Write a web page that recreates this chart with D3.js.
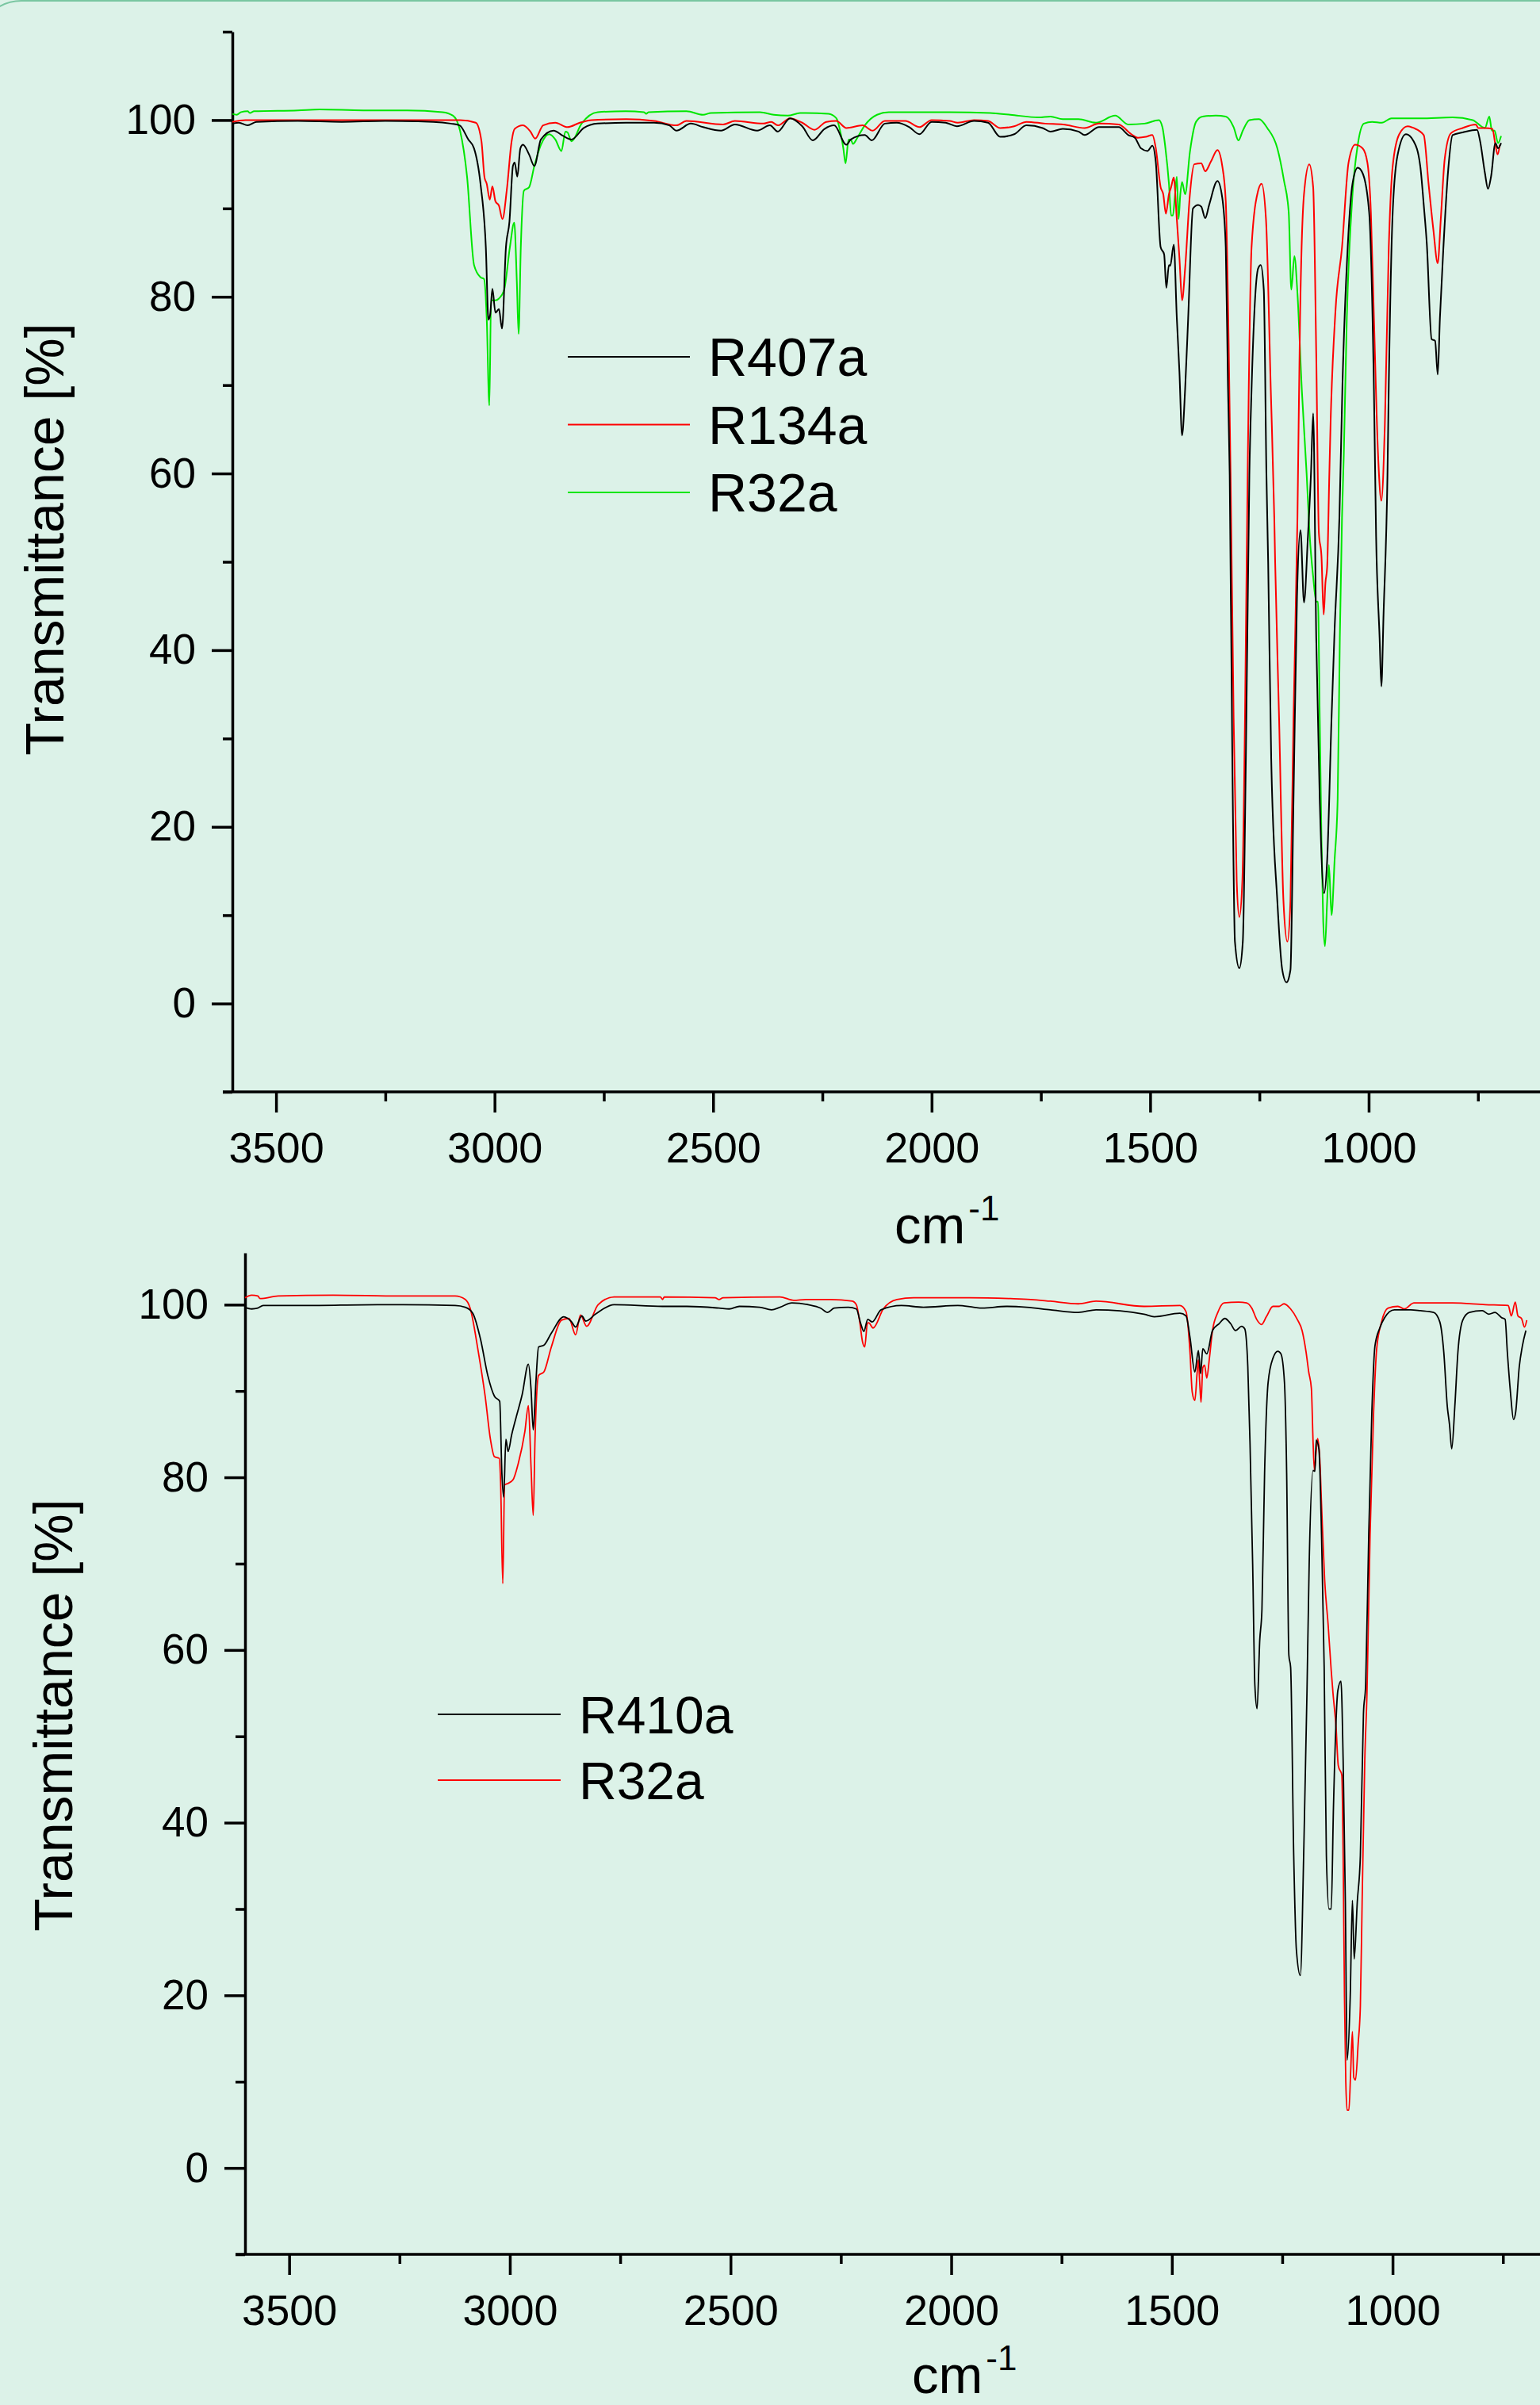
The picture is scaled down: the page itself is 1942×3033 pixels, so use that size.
<!DOCTYPE html>
<html>
<head>
<meta charset="utf-8">
<script src="https://cdn.jsdelivr.net/npm/d3@7"></script>
<style>
  body { margin: 0; background: #dcf2e8; }
  svg { display: block; }
  text { font-family: "Liberation Sans", Arial, sans-serif; fill: #000; }
</style>
</head>
<body>
<svg id="chart" width="1942" height="3033"></svg>
<script>
// ---- data (wavenumber cm-1, transmittance %) ----
const r407a = [[3600,99.6],[3585,99.7],[3565,99.4],[3545,99.8],[3450,99.9],[3350,99.8],[3250,99.9],[3140,99.8],[3100,99.6],[3080,99.4],[3060,97.8],[3047,96.8],[3032,92.7],[3020,85.6],[3014,77.4],[3010,78.0],[3005,80.9],[2998,78.2],[2990,78.6],[2983,76.4],[2974,85.6],[2966,88.5],[2958,94.8],[2954,95.2],[2948,93.6],[2941,96.8],[2935,97.2],[2921,96.1],[2909,94.8],[2894,97.8],[2865,98.8],[2843,98.2],[2824,97.8],[2796,99.1],[2764,99.6],[2699,99.7],[2635,99.7],[2600,99.4],[2584,98.8],[2551,99.6],[2523,99.2],[2482,98.8],[2450,99.5],[2399,98.8],[2370,99.4],[2352,98.7],[2324,100.2],[2296,99.3],[2272,97.7],[2245,99.0],[2223,99.4],[2195,97.2],[2185,97.8],[2153,98.3],[2137,97.7],[2107,99.6],[2080,99.7],[2051,99.2],[2028,98.4],[2000,99.8],[1968,99.7],[1942,99.3],[1903,99.9],[1871,99.7],[1843,98.1],[1811,98.4],[1783,99.4],[1746,99.1],[1728,98.7],[1700,99.0],[1664,98.7],[1650,98.3],[1617,99.2],[1572,99.2],[1550,98.3],[1535,98.0],[1521,96.8],[1506,96.5],[1495,97.1],[1487,95.2],[1476,85.6],[1468,84.8],[1463,81.0],[1457,83.6],[1454,83.5],[1446,85.9],[1439,77.6],[1433,71.5],[1427,64.3],[1420,69.5],[1413,77.6],[1402,90.0],[1390,90.4],[1383,90.2],[1374,88.9],[1365,90.4],[1346,93.1],[1335,91.2],[1327,85.6],[1322,70],[1318,59.8],[1312,27.8],[1306,7.0],[1296,4.0],[1288,7.0],[1281,27.7],[1273,59.8],[1268,69.5],[1253,83.2],[1247,83.6],[1240,80.8],[1234,60],[1230,50],[1223,27.7],[1209,11.6],[1198,3.9],[1188,2.4],[1179,3.8],[1172,23.1],[1164,46],[1156,53.6],[1148,45.4],[1139,52.9],[1132,60],[1127,66.8],[1120,41.4],[1112,23.1],[1102,12.5],[1095,16.2],[1085,32.3],[1078,42.3],[1067,55],[1060,70],[1048,85.6],[1037,92.8],[1025,94.6],[1014,94.0],[999,89.6],[988,69.5],[983,52.9],[975,41.4],[971,35.9],[966,44],[957,59.8],[954,70],[945,89.6],[934,96.0],[915,98.4],[897,97.6],[882,94.8],[874,90.4],[867,86.0],[856,75.2],[848,75],[842,71.2],[837,77.6],[829,85.6],[818,94.4],[808,98.3],[785,98.6],[752,98.9],[745,97.6],[734,94.0],[727,92.2],[720,93.6],[710,97.4],[704,96.8],[697,97.4]];

const r134a = [[3600,99.8],[3570,100],[3450,100],[3300,100],[3150,100],[3079,100],[3043,99.7],[3030,97.6],[3023,93.5],[3018,92.8],[3011,91.0],[3005,92.5],[2998,90.8],[2990,90.3],[2982,88.8],[2972,92.1],[2961,97.6],[2954,99.0],[2935,99.4],[2918,98.7],[2907,97.9],[2889,99.4],[2861,99.7],[2833,99.2],[2805,99.7],[2778,100],[2699,100.1],[2635,99.9],[2584,99.4],[2561,99.9],[2477,99.5],[2450,99.9],[2385,99.6],[2367,99.8],[2352,99.4],[2324,100.2],[2296,99.7],[2268,98.9],[2241,99.8],[2218,99.9],[2195,99.1],[2158,99.4],[2135,98.8],[2107,99.9],[2060,99.9],[2028,99.2],[2000,100],[1959,99.9],[1940,99.7],[1903,100],[1871,99.9],[1843,99.1],[1811,99.3],[1783,99.8],[1740,99.6],[1699,99.5],[1650,99.1],[1617,99.6],[1572,99.5],[1543,98.4],[1528,98.0],[1510,98.1],[1495,98.3],[1487,96.8],[1476,92.4],[1470,91.6],[1464,89.4],[1457,91.6],[1452,92.4],[1446,93.5],[1439,88.8],[1433,84.4],[1427,79.6],[1420,83.2],[1409,91.6],[1399,95.0],[1383,95.1],[1374,94.2],[1361,95.3],[1346,96.6],[1335,94.8],[1327,90.8],[1320,73.6],[1316,59.8],[1309,32.3],[1302,13.9],[1296,9.8],[1289,13.9],[1283,32.3],[1277,59.8],[1268,85.6],[1253,92.0],[1245,92.8],[1235,88.8],[1224,69.5],[1216,55],[1214,50],[1205,32.3],[1195,11.6],[1186,7.0],[1179,11.6],[1172,32.3],[1163,55],[1157,77.6],[1148,91.6],[1136,95.0],[1127,92.4],[1120,73.6],[1114,53.3],[1108,50.6],[1103,44.0],[1099,47.6],[1095,49.4],[1090,60],[1087,66],[1076,78.4],[1061,85.6],[1046,95.2],[1031,97.2],[1014,96.8],[1003,95.2],[995,89.6],[988,77.6],[978,61.5],[971,56.9],[963,65.5],[954,85.6],[945,94.8],[930,98.4],[911,99.3],[897,99.1],[874,98.3],[863,92.8],[852,87.6],[842,83.8],[835,88.8],[826,95.6],[812,98.5],[785,99.1],[755,99.5],[749,99.1],[734,99.1],[717,99.0],[710,97.2],[705,96.1],[700,97.2]];

const r32aTop = [[3600,100.7],[3590,100.6],[3580,100.9],[3565,101.0],[3560,100.8],[3550,101.0],[3450,101.1],[3400,101.2],[3300,101.1],[3200,101.1],[3119,100.9],[3095,100.5],[3079,98.8],[3063,93.6],[3047,83.6],[3032,82.2],[3024,82.0],[3018,77.6],[3012,67.7],[3008,79.6],[2998,79.6],[2990,79.8],[2978,80.8],[2965,85.6],[2955,88.4],[2949,81.6],[2945,75.8],[2940,85.6],[2933,92.0],[2921,92.4],[2909,94.8],[2894,97.2],[2875,98.4],[2861,97.8],[2847,96.5],[2838,98.7],[2833,98.6],[2824,97.6],[2801,99.6],[2764,100.9],[2700,101.0],[2658,100.9],[2653,100.7],[2648,100.9],[2561,101.0],[2523,100.6],[2505,100.8],[2393,100.9],[2361,100.6],[2329,100.5],[2301,100.8],[2236,100.7],[2218,100.2],[2209,98.7],[2202,96.8],[2197,95.1],[2190,97.8],[2185,97.8],[2180,97.3],[2170,98.0],[2153,99.4],[2125,100.6],[2098,100.9],[1959,100.9],[1866,100.8],[1820,100.6],[1755,100.3],[1728,100.4],[1700,100.1],[1664,100.1],[1624,99.7],[1580,100.5],[1550,99.5],[1513,99.6],[1480,100.0],[1472,99.2],[1465,96.8],[1457,92.8],[1452,89.2],[1448,89.2],[1443,91.6],[1439,93.6],[1435,88.8],[1431,91.6],[1427,93.0],[1420,91.6],[1409,96.4],[1395,99.8],[1380,100.4],[1350,100.5],[1327,100.4],[1309,99.2],[1298,97.7],[1288,98.8],[1273,100.0],[1251,100.1],[1232,99.1],[1209,96.8],[1194,93.2],[1183,89.6],[1177,80.8],[1170,84.6],[1163,80.4],[1153,69.5],[1142,60],[1135,53],[1127,48.3],[1120,45.5],[1116,45.5],[1112,32.3],[1108,18.5],[1104,9.3],[1100,6.5],[1095,11.6],[1091,15.7],[1085,10.0],[1078,16.2],[1071,23.1],[1066,41.4],[1061,55],[1057,62],[1050,77.6],[1037,91.6],[1025,97.2],[1011,99.6],[992,99.8],[970,99.7],[948,100.2],[882,100.2],[808,100.3],[762,100.0],[734,99.1],[724,100.4],[718,98.8],[712,98.8],[704,97.4],[697,98.2]];

const r410a = [[3600,99.7],[3585,99.5],[3571,99.6],[3559,99.9],[3467,99.9],[3300,100],[3124,99.9],[3101,99.7],[3084,99.0],[3066,95.9],[3050,91.8],[3035,89.4],[3023,88.8],[3018,80.4],[3014,77.7],[3009,84.4],[3004,83.0],[2996,84.9],[2986,86.9],[2972,89.6],[2958,93.1],[2952,90.2],[2947,85.5],[2941,91.0],[2935,95.1],[2923,95.3],[2906,96.7],[2878,98.6],[2860,98.0],[2851,97.4],[2837,98.7],[2828,98.1],[2806,98.9],[2764,100.0],[2654,99.8],[2599,99.8],[2526,99.6],[2503,99.5],[2480,99.8],[2434,99.7],[2407,99.4],[2388,99.7],[2361,100.2],[2324,100.0],[2296,99.6],[2280,99.1],[2265,99.6],[2233,99.7],[2215,99.5],[2205,97.8],[2198,96.9],[2189,98.3],[2179,98.0],[2159,99.4],[2113,99.9],[2063,99.7],[1985,99.9],[1949,99.7],[1930,99.6],[1875,99.8],[1829,99.7],[1775,99.4],[1712,99.1],[1672,99.4],[1563,98.9],[1540,98.6],[1482,99.0],[1468,98.7],[1459,96.2],[1448,92.2],[1440,94.7],[1435,92.0],[1430,94.9],[1421,94.3],[1408,97.0],[1393,97.8],[1380,98.4],[1367,97.8],[1356,97.0],[1342,97.5],[1335,97.2],[1328,92.8],[1323,83.9],[1317,69.9],[1312,55.9],[1307,53.2],[1301,61.1],[1296,64.7],[1290,80.5],[1282,91.0],[1271,93.8],[1260,94.6],[1253,94.3],[1245,91.0],[1240,80.5],[1235,59.4],[1231,58],[1224,36.2],[1218,25.3],[1209,22.3],[1201,37.3],[1194,55],[1189,69.9],[1180,80.8],[1176,80.7],[1173,84.3],[1167,83.3],[1161,73.4],[1155,58],[1150,36.2],[1144,30.0],[1139,30.0],[1134,41.7],[1124,55.3],[1117,56.4],[1112,47.2],[1107,30.8],[1103,12.5],[1096,19.8],[1091,31.0],[1087,24.2],[1080,30.8],[1073,36.2],[1066,52.6],[1061,56],[1054,73.4],[1047,87.5],[1040,95.2],[1029,97.3],[1018,98.5],[996,99.4],[959,99.4],[937,99.3],[907,99.1],[893,98.0],[884,94.5],[876,88.2],[871,86.1],[866,83.3],[859,88.2],[852,94.5],[841,98.2],[826,99.1],[797,99.3],[782,98.9],[768,99.1],[753,98.5],[745,98.3],[740,94.5],[733,89.9],[726,86.7],[721,87.6],[713,92.8],[706,95.2],[698,97.0]];

const r32aBottom = [[3600,100.8],[3585,101.1],[3571,101.0],[3566,100.7],[3525,101.0],[3400,101.1],[3250,101.0],[3124,101.0],[3101,100.6],[3090,99.6],[3072,94.7],[3056,89.4],[3044,84.4],[3035,82.4],[3024,82.2],[3021,79.5],[3016,67.7],[3012,79.1],[3004,79.3],[2993,79.7],[2981,81.6],[2966,85.3],[2958,88.3],[2952,81.2],[2947,75.6],[2943,84.4],[2935,91.8],[2923,92.2],[2906,95.1],[2883,98.2],[2866,98.4],[2851,96.5],[2840,98.8],[2826,97.5],[2800,100.0],[2764,100.9],[2659,100.9],[2654,100.6],[2650,100.9],[2535,100.8],[2526,100.6],[2517,100.8],[2388,100.9],[2357,100.5],[2329,100.6],[2274,100.6],[2224,100.4],[2215,100.0],[2207,97.9],[2201,95.7],[2196,95.1],[2190,97.8],[2187,97.9],[2177,97.3],[2154,99.5],[2123,100.6],[2085,100.8],[1958,100.8],[1866,100.7],[1820,100.6],[1775,100.4],[1712,100.1],[1672,100.4],[1563,99.8],[1482,99.9],[1468,99.2],[1459,94.5],[1454,89.9],[1448,88.9],[1443,92.0],[1440,93.6],[1437,91.0],[1434,88.7],[1430,92.7],[1426,93.0],[1421,91.5],[1415,93.8],[1408,97.0],[1396,99.1],[1382,100.2],[1349,100.3],[1331,100.2],[1319,99.6],[1308,98.3],[1297,97.7],[1286,98.6],[1271,99.8],[1257,99.8],[1246,100.1],[1231,99.5],[1216,98.3],[1205,97.0],[1196,94.5],[1190,92.2],[1184,90.3],[1180,83.9],[1177,80.8],[1174,82.5],[1170,84.5],[1165,82.2],[1161,76.9],[1154,68.2],[1146,62.9],[1139,57.6],[1135,55],[1128,51.0],[1123,46.6],[1115,45.5],[1112,36.2],[1109,19.8],[1106,10.0],[1103,6.7],[1099,6.7],[1095,11.1],[1091,15.8],[1088,10.5],[1084,10.2],[1078,14.4],[1073,18.8],[1069,30.8],[1063,47.2],[1058,55],[1051,73.4],[1043,87.5],[1036,94.9],[1025,98.0],[1010,99.6],[988,99.8],[973,99.5],[952,100.2],[864,100.2],[790,100.0],[738,99.9],[731,98.7],[722,100.3],[716,98.7],[708,98.4],[701,97.4],[696,98.2]];

const xMajor = [3500, 3000, 2500, 2000, 1500, 1000];
const xMinor = [3250, 2750, 2250, 1750, 1250, 750];
const yMajor = [0, 20, 40, 60, 80, 100];
const yMinorTop = [-10, 10, 30, 50, 70, 90, 110];
const yMinorBottom = [-10, 10, 30, 50, 70, 90];

const topSeries = [
  {name: "R407a", data: r407a, color: "#000000"},
  {name: "R134a", data: r134a, color: "#ff0000"},
  {name: "R32a", data: r32aTop, color: "#00e600"}
];
const bottomSeries = [
  {name: "R410a", data: r410a, color: "#000000"},
  {name: "R32a", data: r32aBottom, color: "#ff0000"}
];

const svg = d3.select("#chart");
const fmt = d3.format("d");

// card edge in the corner
svg.append("rect")
  .attr("x", -28).attr("y", 1).attr("width", 2100).attr("height", 3200)
  .attr("rx", 55).attr("fill", "none")
  .attr("stroke", "#79c6a1").attr("stroke-width", 2);

function panel(opt) {
  const x = d3.scaleLinear().domain(opt.xDomain).range([opt.left, 1942]);
  const y = d3.scaleLinear().domain(opt.yDomain).range([opt.bottom, opt.top]);
  const g = svg.append("g");

  // minor ticks first, then major with labels
  const styleAxis = sel => {
    sel.selectAll("path.domain").attr("stroke", "#000").attr("stroke-width", 3.5);
    sel.selectAll(".tick line").attr("stroke", "#000").attr("stroke-width", 3.5);
    sel.selectAll(".tick text").style("font-family", '"Liberation Sans", Arial, sans-serif');
  };

  g.append("g").attr("transform", `translate(${opt.left},0)`)
    .call(d3.axisLeft(y).tickValues(opt.yMinor).tickSize(12).tickSizeOuter(0).tickFormat(""))
    .call(styleAxis);
  g.append("g").attr("transform", `translate(${opt.left},0)`)
    .call(d3.axisLeft(y).tickValues(yMajor).tickSize(26).tickPadding(20).tickSizeOuter(0).tickFormat(fmt))
    .call(styleAxis)
    .call(a => a.select("path.domain").remove())
    .selectAll(".tick text").attr("font-size", 53);

  g.append("g").attr("transform", `translate(0,${opt.bottom})`)
    .call(d3.axisBottom(x).tickValues(xMinor).tickSize(12).tickSizeOuter(0).tickFormat(""))
    .call(styleAxis)
    .call(a => a.select("path.domain").attr("d", `M${opt.left - 12},0H1942`));
  g.append("g").attr("transform", `translate(0,${opt.bottom})`)
    .call(d3.axisBottom(x).tickValues(xMajor).tickSize(26).tickPadding(25).tickSizeOuter(0).tickFormat(fmt))
    .call(styleAxis)
    .call(a => a.select("path.domain").remove())
    .selectAll(".tick text").attr("font-size", 54);

  // spectra
  const line = d3.line().x(d => x(d[0])).y(d => y(d[1])).curve(d3.curveMonotoneX);
  opt.series.slice().reverse().forEach(s => {
    g.append("path").datum(s.data)
      .attr("fill", "none").attr("stroke", s.color)
      .attr("stroke-width", opt.lw).attr("stroke-linejoin", "round")
      .attr("d", line);
  });

  // legend
  opt.series.forEach((s, i) => {
    const ly = opt.legY + i * opt.legStep;
    g.append("line").attr("x1", opt.legX).attr("x2", opt.legX + opt.legLen)
      .attr("y1", ly).attr("y2", ly).attr("stroke", s.color).attr("stroke-width", 1.8);
    g.append("text").attr("x", opt.legX + opt.legLen + 23).attr("y", ly + opt.legFont * 0.36)
      .attr("font-size", opt.legFont).text(s.name);
  });

  // axis titles
  g.append("text")
    .attr("transform", `translate(${opt.yTitleX},${opt.yTitleY}) rotate(-90)`)
    .attr("text-anchor", "middle").attr("font-size", 68)
    .text("Transmittance [%]");
  const xt = g.append("text").attr("x", opt.xTitleX).attr("y", opt.xTitleY).attr("font-size", 67);
  xt.append("tspan").text("cm");
  xt.append("tspan").attr("font-size", 44).attr("dx", 4).attr("dy", -29).text("-1");
}

panel({
  series: topSeries, xDomain: [3600, 608], yDomain: [-10, 110],
  left: 293, top: 40, bottom: 1377, yMinor: yMinorTop, lw: 2,
  legX: 716, legY: 450, legStep: 85.5, legLen: 154, legFont: 68,
  yTitleX: 80, yTitleY: 680, xTitleX: 1128, xTitleY: 1568
});

panel({
  series: bottomSeries, xDomain: [3600, 666], yDomain: [-10, 106],
  left: 309, top: 1580, bottom: 2843, yMinor: yMinorBottom, lw: 1.8,
  legX: 552, legY: 2162, legStep: 83, legLen: 155, legFont: 66,
  yTitleX: 91, yTitleY: 2163, xTitleX: 1150, xTitleY: 3018
});
</script>
</body>
</html>
